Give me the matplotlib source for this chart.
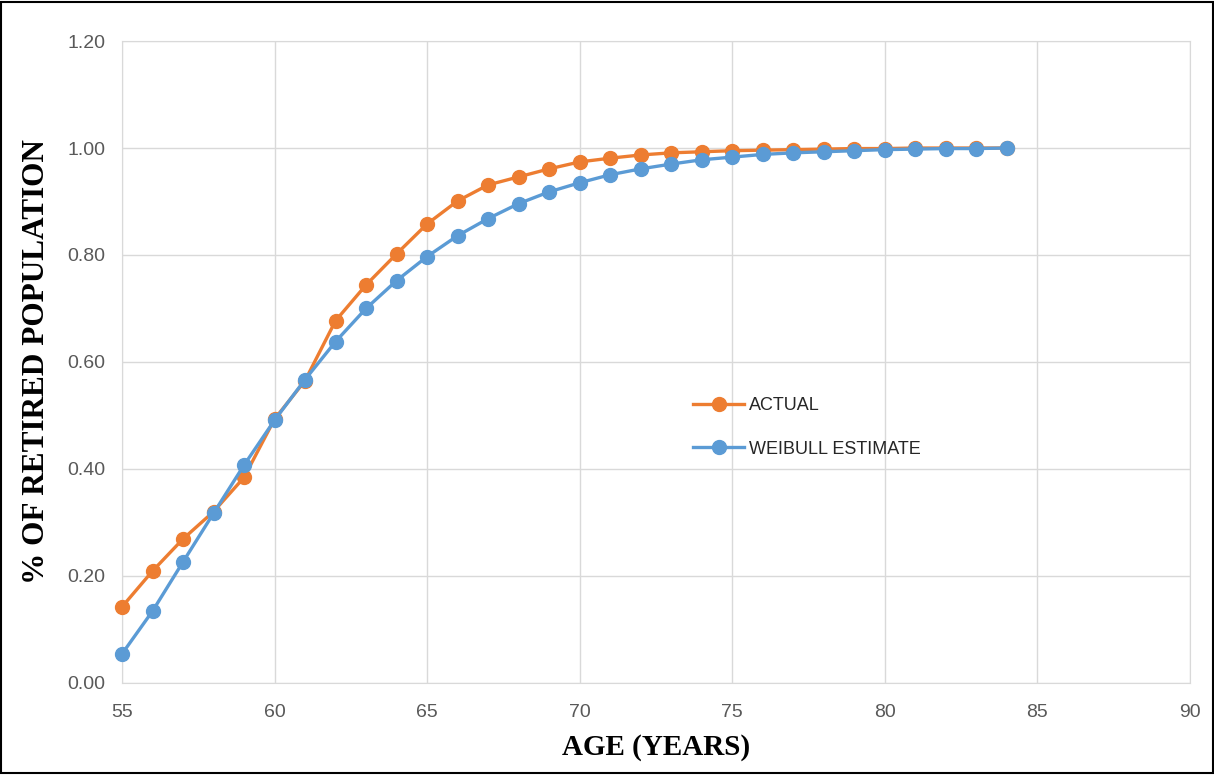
import numpy as np
import matplotlib as mpl
import matplotlib.pyplot as plt
from matplotlib.patches import Rectangle

mpl.rcParams['font.family'] = ['Liberation Sans', 'DejaVu Sans']

# data ------------------------------------------------------------------------
age = list(range(55, 85))
actual = [0.142, 0.209, 0.269, 0.320, 0.384, 0.493, 0.565, 0.677, 0.744, 0.802,
          0.858, 0.901, 0.931, 0.946, 0.961, 0.974, 0.981, 0.987, 0.991, 0.993,
          0.995, 0.996, 0.997, 0.998, 0.999, 0.999, 1.000, 1.000, 1.000, 1.000]
weibull = [0.054, 0.134, 0.226, 0.317, 0.407, 0.491, 0.567, 0.638, 0.700, 0.752,
           0.797, 0.836, 0.868, 0.896, 0.918, 0.935, 0.950, 0.961, 0.970, 0.978,
           0.983, 0.988, 0.991, 0.993, 0.995, 0.997, 0.998, 0.999, 0.999, 1.000]
xticks = [55, 60, 65, 70, 75, 80, 85, 90]
yticks = [0.0, 0.2, 0.4, 0.6, 0.8, 1.0, 1.2]

# plot ------------------------------------------------------------------------
orange, blue, grid = '#ED7D31', '#5B9BD5', '#D9D9D9'

fig = plt.figure(figsize=(12.14, 7.75), dpi=100)
ax = fig.add_axes([0.1005, 0.119, 0.8795, 0.828])

ax.plot(age, actual, '-o', color=orange, lw=2.4, ms=10, label='ACTUAL', zorder=3)
ax.plot(age, weibull, '-o', color=blue, lw=2.4, ms=10, label='WEIBULL ESTIMATE', zorder=4)

ax.set_xlim(55, 90)
ax.set_ylim(0, 1.2)
ax.set_xticks(xticks)
ax.set_yticks(yticks)
ax.set_yticklabels(['%.2f' % v for v in yticks])
ax.grid(True, color=grid, lw=1.0)
ax.set_axisbelow(True)
for s in ax.spines.values():
    s.set_color(grid)
ax.tick_params(length=0, labelsize=14, labelcolor='#595959')
ax.tick_params(axis='x', pad=15)
ax.tick_params(axis='y', pad=12)
for ln in ax.lines:
    ln.set_clip_on(False)

ax.set_xlabel('AGE (YEARS)', family='Liberation Serif', fontweight='bold',
              fontsize=21, labelpad=10)
ax.set_ylabel('% OF RETIRED POPULATION', family='Liberation Serif',
              fontweight='bold', fontsize=22.5, labelpad=12)

ax.legend(loc='upper left', bbox_to_anchor=(0.52, 0.47), frameon=False,
          fontsize=13, handlelength=2.8, labelspacing=1.45, handletextpad=0.3,
          labelcolor='#262626')

fig.patches.append(Rectangle((0.001, 0.002), 0.998, 0.996, transform=fig.transFigure,
                             fill=False, edgecolor='black', lw=1.5))

fig.savefig('out.png', dpi=100)
